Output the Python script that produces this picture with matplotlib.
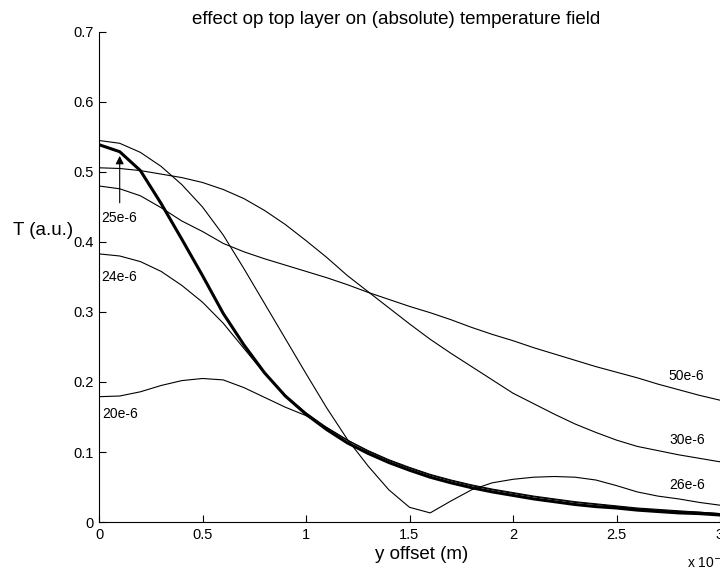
import matplotlib
matplotlib.use("Agg")
import matplotlib.pyplot as plt
from matplotlib.ticker import FuncFormatter

# ==========================================================
# DATA  (y offset in mm, temperature in a.u.)
# ==========================================================

y_offset_mm = [0.0, 0.1, 0.2, 0.3, 0.4, 0.5, 0.6, 0.7, 0.8, 0.9,
               1.0, 1.1, 1.2, 1.3, 1.4, 1.5, 1.6, 1.7, 1.8, 1.9,
               2.0, 2.1, 2.2, 2.3, 2.4, 2.5, 2.6, 2.7, 2.8, 2.9, 3.0]

T_20e6 = [0.179, 0.180, 0.186, 0.195, 0.202, 0.205, 0.203, 0.192, 0.178, 0.164,
          0.152, 0.135, 0.117, 0.102, 0.089, 0.078, 0.068, 0.060, 0.053, 0.047,
          0.042, 0.037, 0.033, 0.029, 0.026, 0.023, 0.020, 0.018, 0.016, 0.014, 0.012]

T_24e6 = [0.383, 0.380, 0.372, 0.358, 0.338, 0.314, 0.284, 0.248, 0.212, 0.181,
          0.156, 0.135, 0.117, 0.101, 0.088, 0.077, 0.067, 0.059, 0.052, 0.046,
          0.041, 0.036, 0.032, 0.028, 0.025, 0.022, 0.019, 0.017, 0.015, 0.014, 0.012]

T_25e6 = [0.539, 0.529, 0.502, 0.455, 0.404, 0.352, 0.298, 0.253, 0.213, 0.180,
          0.154, 0.132, 0.113, 0.098, 0.085, 0.074, 0.064, 0.056, 0.049, 0.043,
          0.038, 0.033, 0.029, 0.025, 0.022, 0.020, 0.017, 0.015, 0.013, 0.012, 0.010]

T_26e6 = [0.545, 0.541, 0.528, 0.508, 0.482, 0.450, 0.410, 0.362, 0.312, 0.262,
          0.212, 0.163, 0.118, 0.080, 0.046, 0.021, 0.013, 0.030, 0.046, 0.056,
          0.061, 0.064, 0.065, 0.064, 0.060, 0.052, 0.043, 0.037, 0.033, 0.028, 0.024]

T_30e6 = [0.506, 0.505, 0.502, 0.497, 0.492, 0.485, 0.475, 0.462, 0.445, 0.425,
          0.402, 0.378, 0.352, 0.329, 0.306, 0.283, 0.261, 0.241, 0.222, 0.203,
          0.184, 0.169, 0.154, 0.140, 0.128, 0.117, 0.108, 0.102, 0.096, 0.091, 0.086]

T_50e6 = [0.480, 0.476, 0.466, 0.449, 0.430, 0.415, 0.398, 0.386, 0.376, 0.367,
          0.358, 0.349, 0.339, 0.328, 0.318, 0.308, 0.299, 0.289, 0.278, 0.268,
          0.259, 0.249, 0.240, 0.231, 0.222, 0.214, 0.206, 0.197, 0.189, 0.181, 0.174]

y_offset = [v * 1e-3 for v in y_offset_mm]

# ==========================================================
# STYLE
# ==========================================================

plt.rcParams["font.family"] = ["Liberation Sans", "DejaVu Sans"]
plt.rcParams["font.size"] = 10

fig = plt.figure(figsize=(7.2, 5.7), dpi=100)
ax = fig.add_axes([0.1375, 0.0842, 0.8625, 0.8597])

# ==========================================================
# CURVES
# ==========================================================

thin = dict(color="black", linewidth=0.8)

ax.plot(y_offset, T_20e6, **thin)
ax.plot(y_offset, T_24e6, **thin)
ax.plot(y_offset, T_26e6, **thin)
ax.plot(y_offset, T_30e6, **thin)
ax.plot(y_offset, T_50e6, **thin)
ax.plot(y_offset, T_25e6, color="black", linewidth=2.2)

# ==========================================================
# LABELS
# ==========================================================

ax.annotate(
    "",
    xy=(0.1e-3, 0.523),
    xytext=(0.1e-3, 0.456),
    arrowprops=dict(arrowstyle="-|>", color="black", lw=0.8,
                    mutation_scale=12, shrinkA=0, shrinkB=0)
)

ax.text(0.012e-3, 0.434, "25e-6", va="center", ha="left")
ax.text(0.012e-3, 0.350, "24e-6", va="center", ha="left")
ax.text(0.017e-3, 0.154, "20e-6", va="center", ha="left")
ax.text(2.750e-3, 0.209, "50e-6", va="center", ha="left")
ax.text(2.758e-3, 0.117, "30e-6", va="center", ha="left")
ax.text(2.755e-3, 0.053, "26e-6", va="center", ha="left")

fig.text(0.55, 0.966, "effect op top layer on (absolute) temperature field",
         ha="center", va="center", fontsize=13.5)

fig.text(0.06, 0.595, "T (a.u.)", ha="center", va="center", fontsize=13.5)
fig.text(0.586, 0.027, "y offset (m)", ha="center", va="center", fontsize=13.5)

ax.text(0.947, -0.080, "x 10$^{-3}$", transform=ax.transAxes,
        ha="left", va="center", fontsize=10)

# ==========================================================
# AXES
# ==========================================================

ax.set_xlim(0, 3e-3)
ax.set_ylim(0, 0.7)

ax.set_xticks([0, 0.5e-3, 1e-3, 1.5e-3, 2e-3, 2.5e-3, 3e-3])
ax.xaxis.set_major_formatter(FuncFormatter(lambda v, p: f"{v * 1e3:g}"))
ax.set_yticks([0, 0.1, 0.2, 0.3, 0.4, 0.5, 0.6, 0.7])
ax.yaxis.set_major_formatter(FuncFormatter(lambda v, p: f"{v:g}"))

ax.tick_params(direction="in", length=5, width=0.8, labelsize=10.5, pad=4)

ax.spines["top"].set_visible(False)
ax.spines["right"].set_visible(False)

for s in ("left", "bottom"):
    ax.spines[s].set_linewidth(0.8)

# ==========================================================
# SAVE
# ==========================================================

fig.savefig("out.png", dpi=100)
